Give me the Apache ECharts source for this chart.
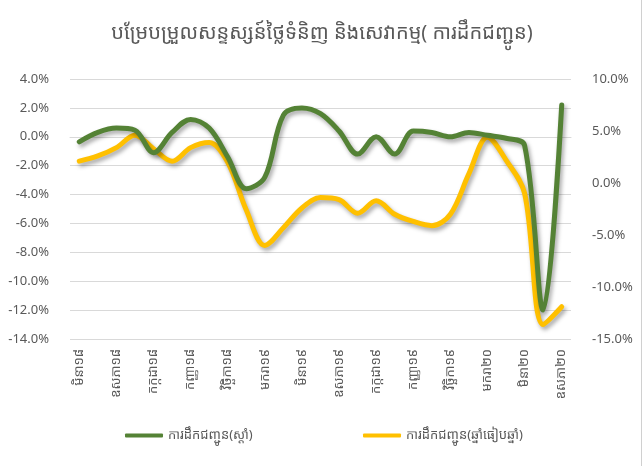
<!DOCTYPE html>
<html>
<head>
<meta charset="utf-8">
<script src="https://cdn.jsdelivr.net/npm/echarts@6/dist/echarts.min.js"></script>
<style>
html,body{margin:0;padding:0;background:#fff;}
#c{width:644px;height:466px;}
</style>
</head>
<body>
<div id="c"></div>
<script>
const categories = [
  'មិនា១៨','មេសា១៨','ឧសភា១៨','មិថុនា១៨','កក្កដា១៨','សីហា១៨','កញ្ញា១៨','តុលា១៨','វិច្ឆិកា១៨','ធ្នូ១៨',
  'មករា១៩','កុម្ភៈ១៩','មិនា១៩','មេសា១៩','ឧសភា១៩','មិថុនា១៩','កក្កដា១៩','សីហា១៩','កញ្ញា១៩','តុលា១៩',
  'វិច្ឆិកា១៩','ធ្នូ១៩','មករា២០','កុម្ភៈ២០','មិនា២០','មេសា២០','ឧសភា២០'
];
const greenName = 'ការដឹកជញ្ជូន(ស្តាំ)';
const yellowName = 'ការដឹកជញ្ជូន(ឆ្នាំធៀបឆ្នាំ)';
const greenValues = [-0.35, 0.3, 0.6, 0.45, -1.1, 0.3, 1.2, 0.6, -1.4, -3.6,
  -2.8, 1.5, 2.0, 1.6, 0.4, -1.2, 0.0, -1.2, 0.4, 0.3,
  0.0, 0.3, 0.1, -0.1, -0.6, -12.0, 2.2];
const yellowValues = [2.1, 2.6, 3.4, 4.6, 3.3, 2.1, 3.4, 3.9, 2.0, -2.6,
  -6.0, -4.3, -2.4, -1.4, -1.6, -2.9, -1.7, -3.0, -3.7, -4.1,
  -3.0, 0.9, 4.4, 2.2, -1.0, -13.6, -11.9];
const leftTicks = {min: -14, max: 4, interval: 2};
const rightTicks = {min: -15, max: 10, interval: 5};
const titleText = 'បម្រែបម្រួលសន្ទស្សន៍ថ្លៃទំនិញ និងសេវាកម្ម( ការដឹកជញ្ជូន)';

const FONT = '"Noto Sans Khmer","Khmer OS","Khmer OS System","Noto Sans","DejaVu Sans",sans-serif';
const GREEN = '#548235', YELLOW = '#FFC000', TXT = '#595959';
const chart = echarts.init(document.getElementById('c'));
const shadow = {shadowColor: 'rgba(0,0,0,0.35)', shadowBlur: 4, shadowOffsetX: 2, shadowOffsetY: 3};
chart.setOption({
  backgroundColor: '#fff',
  animation: false,
  textStyle: {fontFamily: FONT},
  title: {text: titleText, left: 'center', top: 18,
    textStyle: {fontFamily: FONT, fontSize: 20, fontWeight: 'normal', color: TXT}},
  grid: {left: 70, right: 73, top: 79, bottom: 127},
  legend: [
    {data: [greenName], left: 120, top: 424, icon: 'roundRect', itemWidth: 38, itemHeight: 4,
      textStyle: {fontFamily: FONT, fontSize: 13, color: TXT}},
    {data: [yellowName], left: 358, top: 424, icon: 'roundRect', itemWidth: 38, itemHeight: 4,
      textStyle: {fontFamily: FONT, fontSize: 13, color: TXT}}
  ],
  xAxis: {
    type: 'category', data: categories, boundaryGap: true,
    axisLine: {lineStyle: {color: '#d9d9d9'}}, axisTick: {show: false},
    axisLabel: {rotate: 90, interval: 1, color: TXT, fontSize: 13, fontFamily: FONT, margin: 10}
  },
  yAxis: [
    {type: 'value', min: leftTicks.min, max: leftTicks.max, interval: leftTicks.interval,
      axisLine: {show: false}, axisTick: {show: false},
      axisLabel: {color: TXT, fontSize: 13, margin: 21, formatter: v => v.toFixed(1) + '%'},
      splitLine: {lineStyle: {color: '#d9d9d9', width: 1}}},
    {type: 'value', min: rightTicks.min, max: rightTicks.max, interval: rightTicks.interval,
      axisLine: {show: false}, axisTick: {show: false},
      axisLabel: {color: TXT, fontSize: 13, margin: 21, formatter: v => v.toFixed(1) + '%'},
      splitLine: {show: false}}
  ],
  series: [
    {name: greenName, type: 'line', yAxisIndex: 0, data: greenValues, smooth: 0.35, showSymbol: false,
      color: GREEN, lineStyle: Object.assign({width: 5, color: GREEN, cap: 'round'}, shadow), z: 3},
    {name: yellowName, type: 'line', yAxisIndex: 1, data: yellowValues, smooth: 0.35, showSymbol: false,
      color: YELLOW, lineStyle: Object.assign({width: 5, color: YELLOW, cap: 'round'}, shadow), z: 2}
  ],
  graphic: [{type: 'line', shape: {x1: 641.5, y1: 0, x2: 641.5, y2: 466}, style: {stroke: '#d0d0d0', lineWidth: 1}}]
});
</script>
</body>
</html>
